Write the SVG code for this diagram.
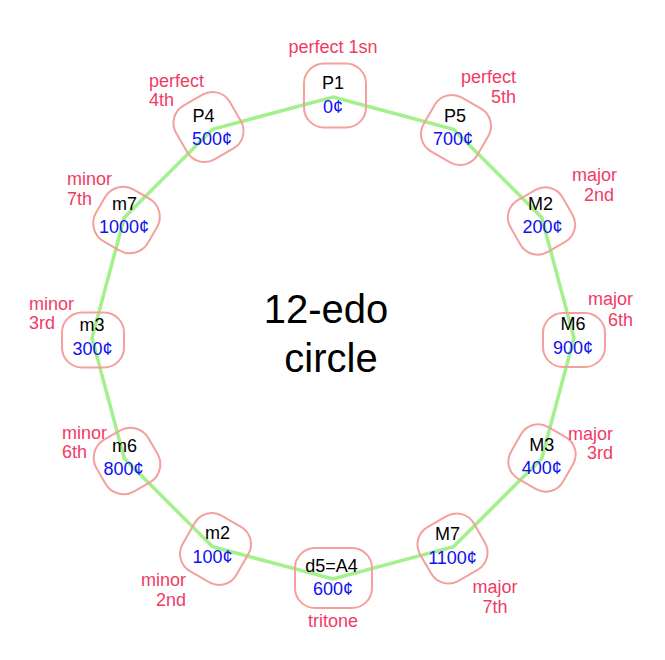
<svg xmlns="http://www.w3.org/2000/svg" width="665" height="660" viewBox="0 0 665 660">
<style>
.box{fill:none;stroke:#f4a09c;stroke-width:2}
.nm{font-family:"Liberation Sans",Arial,sans-serif;font-size:18px;fill:#000;text-anchor:middle}
.ct{font-family:"Liberation Sans",Arial,sans-serif;font-size:18px;fill:#1010f0;text-anchor:middle}
.lb{font-family:"Liberation Sans",Arial,sans-serif;font-size:18px;fill:#f03c64}
.title{font-family:"Liberation Sans",Arial,sans-serif;font-size:40px;fill:#000;text-anchor:middle}
</style>
<rect width="665" height="660" fill="#fff"/>
<g id="connectors">
<polygon points="333,97 453.5,129.3 541.7,217.5 574,338 541.7,458.5 453.5,546.7 333,579 212.5,546.7 124.3,458.5 92,338 124.3,217.5 212.5,129.3" fill="none" stroke="#a4f08c" stroke-width="3.5" stroke-linejoin="miter"/>
</g>
<g id="title">
<text class="title" x="326" y="323">12-edo</text>
<text class="title" x="331" y="372">circle</text>
</g>
<g id="P1"><rect class="box" x="-31" y="-32" width="62" height="64" rx="20" transform="translate(335,95.5)"/>
<text class="nm" x="333" y="89">P1</text><text class="ct" x="333" y="113">0¢</text>
<text class="lb" x="333" y="53" text-anchor="middle">perfect 1sn</text></g>
<g id="P5"><rect class="box" x="-31" y="-31" width="62" height="62" rx="20" transform="translate(456,130) rotate(30)"/>
<text class="nm" x="455" y="122">P5</text><text class="ct" x="453" y="145">700¢</text>
<text class="lb" x="516" y="83" text-anchor="end">perfect</text><text class="lb" x="516" y="103" text-anchor="end">5th</text></g>
<g id="M2"><rect class="box" x="-30" y="-30" width="60" height="60" rx="20" transform="translate(541.5,221) rotate(60)"/>
<text class="nm" x="540.5" y="210">M2</text><text class="ct" x="542.5" y="233">200¢</text>
<text class="lb" x="617" y="181" text-anchor="end">major</text><text class="lb" x="614" y="201" text-anchor="end">2nd</text></g>
<g id="M6"><rect class="box" x="-27" y="-31" width="54" height="62" rx="20" transform="translate(574,340) rotate(90)"/>
<text class="nm" x="573" y="330">M6</text><text class="ct" x="573" y="354">900¢</text>
<text class="lb" x="633" y="305" text-anchor="end">major</text><text class="lb" x="633" y="326" text-anchor="end">6th</text></g>
<g id="M3"><rect class="box" x="-30" y="-30" width="60" height="60" rx="20" transform="translate(542,458) rotate(120)"/>
<text class="nm" x="541.7" y="451">M3</text><text class="ct" x="541.7" y="474">400¢</text>
<text class="lb" x="613" y="440" text-anchor="end">major</text><text class="lb" x="613" y="459" text-anchor="end">3rd</text></g>
<g id="M7"><rect class="box" x="-31" y="-31" width="62" height="62" rx="20" transform="translate(452.5,548.5) rotate(150)"/>
<text class="nm" x="447.5" y="540">M7</text><text class="ct" x="452.5" y="564">1100¢</text>
<text class="lb" x="495" y="593" text-anchor="middle">major</text><text class="lb" x="495" y="613" text-anchor="middle">7th</text></g>
<g id="d5A4"><rect class="box" x="-38.5" y="-30" width="77" height="60" rx="20" transform="translate(333.5,578) rotate(180)"/>
<text class="nm" x="331.5" y="572">d5=A4</text><text class="ct" x="333" y="595">600¢</text>
<text class="lb" x="333" y="627" text-anchor="middle">tritone</text></g>
<g id="m2"><rect class="box" x="-31" y="-32" width="62" height="64" rx="20" transform="translate(215.5,549) rotate(210)"/>
<text class="nm" x="217.5" y="539">m2</text><text class="ct" x="212.5" y="563">100¢</text>
<text class="lb" x="186" y="586" text-anchor="end">minor</text><text class="lb" x="186" y="606" text-anchor="end">2nd</text></g>
<g id="m6"><rect class="box" x="-30" y="-30" width="60" height="60" rx="21" transform="translate(127,461) rotate(240)"/>
<text class="nm" x="124.5" y="452">m6</text><text class="ct" x="123.5" y="475">800¢</text>
<text class="lb" x="62" y="439">minor</text><text class="lb" x="62" y="458">6th</text></g>
<g id="m3"><rect class="box" x="-27.5" y="-31" width="55" height="62" rx="20" transform="translate(93,340) rotate(270)"/>
<text class="nm" x="92" y="331">m3</text><text class="ct" x="92.5" y="355">300¢</text>
<text class="lb" x="29" y="310">minor</text><text class="lb" x="29" y="329">3rd</text></g>
<g id="m7"><rect class="box" x="-30" y="-30" width="60" height="60" rx="21" transform="translate(126.5,220) rotate(300)"/>
<text class="nm" x="124.5" y="210">m7</text><text class="ct" x="124" y="233">1000¢</text>
<text class="lb" x="67" y="185">minor</text><text class="lb" x="67" y="205">7th</text></g>
<g id="P4"><rect class="box" x="-31" y="-31" width="62" height="62" rx="20" transform="translate(208.5,127) rotate(330)"/>
<text class="nm" x="203.5" y="122">P4</text><text class="ct" x="212" y="145">500¢</text>
<text class="lb" x="149" y="87">perfect</text><text class="lb" x="149" y="106">4th</text></g>
</svg>
